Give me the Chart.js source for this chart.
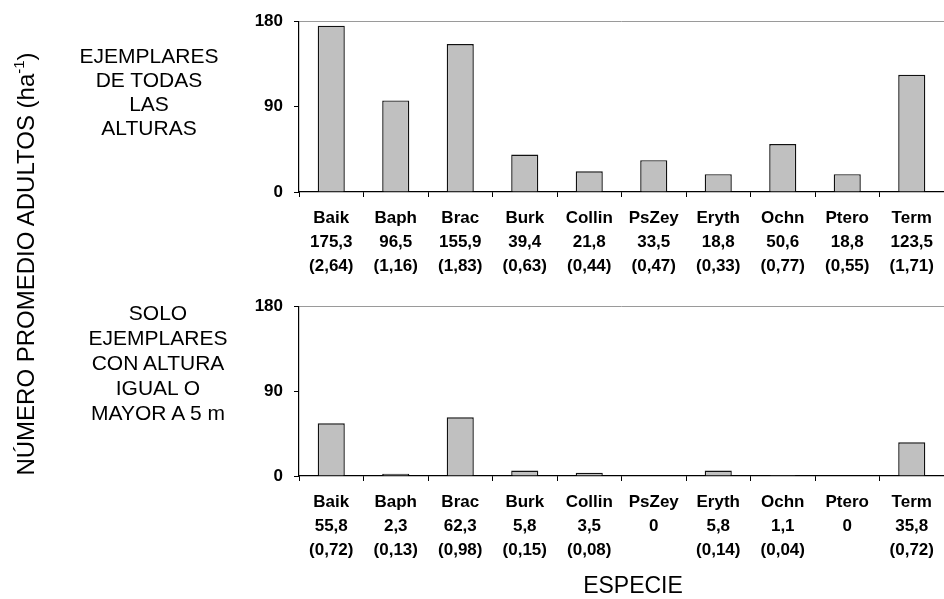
<!DOCTYPE html>
<html>
<head>
<meta charset="utf-8">
<script src="https://cdn.jsdelivr.net/npm/chart.js@4.4.1/dist/chart.umd.min.js"></script>
<style>
  html, body { margin: 0; padding: 0; background: #fff; }
  body { width: 944px; height: 599px; position: relative; overflow: hidden;
         font-family: "Liberation Sans", Arial, sans-serif; color: #000; }
  .panel { position: absolute; left: 0; width: 944px; }
  #panelTop { top: 0; height: 285px; }
  #panelBottom { top: 285px; height: 314px; }
  .side { position: absolute; width: 220px; text-align: center; font-size: 21px; }
  #sideTop { left: 39px; top: 44px; line-height: 24px; }
  #sideBottom { left: 48px; top: 300px; line-height: 25px; }
  #yTitle { position: absolute; left: -224px; top: 249px; width: 500px; height: 30px;
            line-height: 30px; text-align: center; font-size: 24px; white-space: nowrap;
            transform: rotate(-90deg); }
  #yTitle sup { font-size: 15px; vertical-align: 10px; line-height: 0; }
  #xTitle { position: absolute; left: 533px; top: 571px; width: 200px; text-align: center;
            font-size: 23px; line-height: 28px; }
</style>
</head>
<body>
<div class="panel" id="panelTop"><canvas id="chartTop" width="944" height="285"></canvas></div>
<div class="panel" id="panelBottom"><canvas id="chartBottom" width="944" height="314"></canvas></div>
<div class="side" id="sideTop">EJEMPLARES<br>DE TODAS<br>LAS<br>ALTURAS</div>
<div class="side" id="sideBottom">SOLO<br>EJEMPLARES<br>CON ALTURA<br>IGUAL O<br>MAYOR A 5 m</div>
<div id="yTitle">NÚMERO PROMEDIO ADULTOS (ha<sup>-1</sup>)</div>
<div id="xTitle">ESPECIE</div>
<script>
// Species codes along the x axis
const species = ['Baik', 'Baph', 'Brac', 'Burk', 'Collin', 'PsZey', 'Eryth', 'Ochn', 'Ptero', 'Term'];

// Mean number of adults per hectare, all heights
const allHeights = [175.3, 96.5, 155.9, 39.4, 21.8, 33.5, 18.8, 50.6, 18.8, 123.5];
const allHeightsSE = [2.64, 1.16, 1.83, 0.63, 0.44, 0.47, 0.33, 0.77, 0.55, 1.71];

// Mean number of adults per hectare, height >= 5 m
const tallOnly = [55.8, 2.3, 62.3, 5.8, 3.5, 0, 5.8, 1.1, 0, 35.8];
const tallOnlySE = [0.72, 0.13, 0.98, 0.15, 0.08, null, 0.14, 0.04, null, 0.72];

// Value axis ticks
const yTicks = [0, 90, 180];

const FONT = '"Liberation Sans", Arial, sans-serif';

function fmtValue(v) {
  return v === 0 ? '0' : v.toFixed(1).replace('.', ',');
}
function fmtSE(s) {
  return s == null ? '' : '(' + s.toFixed(2).replace('.', ',') + ')';
}
function buildLabels(values, se) {
  return species.map((name, i) => [name, fmtValue(values[i]), fmtSE(se[i])]);
}

function drawPanel(canvasId, values, se, padTop, axisHeight) {
  const yMax = yTicks[yTicks.length - 1];
  return new Chart(document.getElementById(canvasId), {
    type: 'bar',
    data: {
      labels: buildLabels(values, se),
      datasets: [{
        data: values,
        backgroundColor: '#c0c0c0',
        borderColor: '#111',
        borderWidth: 1.4,
        barPercentage: 0.42,
        categoryPercentage: 1
      }]
    },
    options: {
      responsive: false,
      animation: false,
      devicePixelRatio: 1,
      layout: { padding: { top: padTop, left: 0, right: 0, bottom: 0 } },
      plugins: { legend: { display: false }, tooltip: { enabled: false } },
      scales: {
        x: {
          offset: true,
          grid: { display: true, offset: true, drawOnChartArea: false, drawTicks: true,
                  tickLength: 5, tickColor: '#000', tickWidth: 1 },
          border: { display: true, color: '#000', width: 1.2 },
          ticks: { color: '#000', autoSkip: false, maxRotation: 0, padding: 9,
                   font: { family: FONT, size: 17, weight: 'bold', lineHeight: 1.42 } },
          afterFit(scale) { scale.height = axisHeight; }
        },
        y: {
          min: yTicks[0],
          max: yMax,
          afterBuildTicks(scale) { scale.ticks = yTicks.map(v => ({ value: v })); },
          grid: { display: true, drawOnChartArea: true, drawTicks: true, tickLength: 5,
                  tickColor: '#000',
                  color: c => (c.tick && c.tick.value === yMax) ? '#9a9a9a' : 'rgba(0,0,0,0)' },
          border: { display: true, color: '#000', width: 1.2 },
          ticks: { color: '#000', padding: 11,
                   font: { family: FONT, size: 17, weight: 'bold' } },
          afterFit(scale) { scale.width = 299; }
        }
      }
    }
  });
}

drawPanel('chartTop', allHeights, allHeightsSE, 17, 93);
drawPanel('chartBottom', tallOnly, tallOnlySE, 18, 123);
</script>
</body>
</html>
